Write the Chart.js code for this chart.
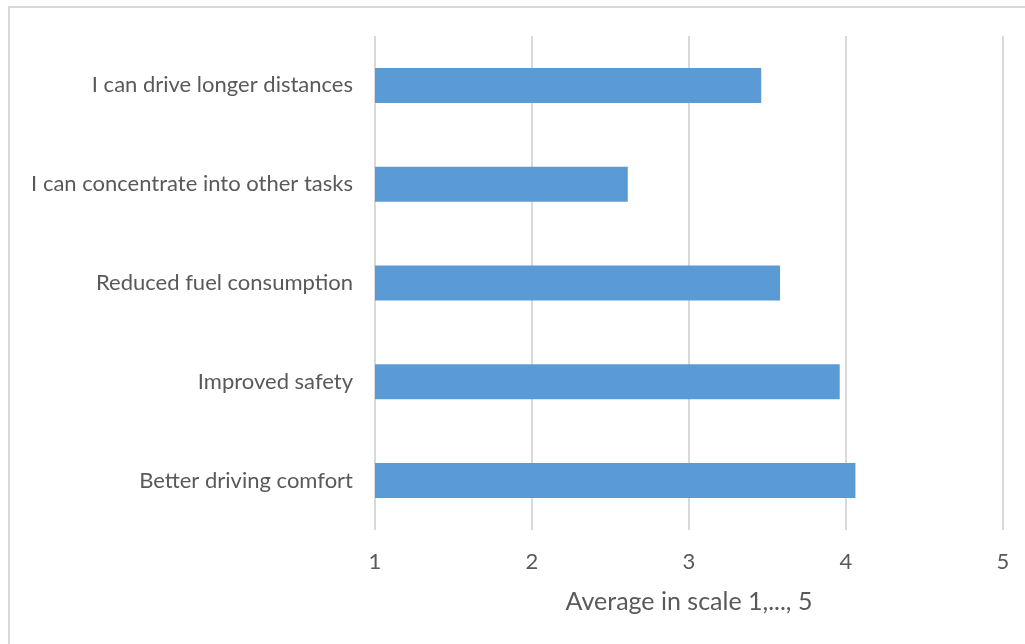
<!DOCTYPE html>
<html>
<head>
<meta charset="utf-8">
<script src="https://cdn.jsdelivr.net/npm/chart.js@4/dist/chart.umd.min.js"></script>
<style>
  html, body { margin: 0; padding: 0; background: #ffffff; overflow: hidden; }
  #wrap { position: relative; width: 1025px; height: 644px; }
  #frame {
    position: absolute; left: 8px; top: 6px; width: 1200px; height: 800px;
    border-top: 2px solid #d9d9d9; border-left: 2px solid #d9d9d9;
    pointer-events: none;
  }
  canvas { position: absolute; left: 0; top: 0; }
</style>
</head>
<body>
<div id="wrap">
  <canvas id="chart" width="1025" height="644"></canvas>
  <div id="frame"></div>
</div>
<script>
// Survey benefits, top to bottom
const categories = [
  "I can drive longer distances",
  "I can concentrate into other tasks",
  "Reduced fuel consumption",
  "Improved safety",
  "Better driving comfort"
];
// Average rating on a 1-5 scale
const averages = [3.46, 2.61, 3.58, 3.96, 4.06];
const axisMin = 1;
const axisMax = 5;
const axisTitle = "Average in scale 1,..., 5";

const textColor = "#595959";
const gridColor = "#d9d9d9";
const fontFamily = "Lato, 'Open Sans', sans-serif";

new Chart(document.getElementById("chart"), {
  type: "bar",
  data: {
    labels: categories,
    datasets: [{
      data: averages,
      backgroundColor: "#5b9bd5",
      borderWidth: 0,
      categoryPercentage: 1.0,
      barPercentage: 0.354
    }]
  },
  options: {
    indexAxis: "y",
    responsive: false,
    animation: false,
    layout: { padding: { top: 36, right: 22, bottom: 27, left: 0 } },
    plugins: {
      legend: { display: false },
      tooltip: { enabled: false }
    },
    scales: {
      x: {
        type: "linear",
        min: axisMin,
        max: axisMax,
        ticks: {
          stepSize: 1,
          color: textColor,
          padding: 19,
          font: { family: fontFamily, size: 22 }
        },
        grid: { color: gridColor, lineWidth: 2, drawTicks: false },
        border: { display: false },
        title: {
          display: true,
          text: axisTitle,
          color: textColor,
          padding: { top: 0, bottom: 0 },
          font: { family: fontFamily, size: 25 }
        },
        afterFit(scale) {
          scale.height = 87;
          scale.paddingLeft = 0;
          scale.paddingRight = 0;
        }
      },
      y: {
        type: "category",
        ticks: {
          color: textColor,
          padding: 22,
          font: { family: fontFamily, size: 22 }
        },
        grid: { display: false, drawTicks: false },
        border: { display: false },
        afterFit(scale) { scale.width = 375; }
      }
    }
  }
});
</script>
</body>
</html>
